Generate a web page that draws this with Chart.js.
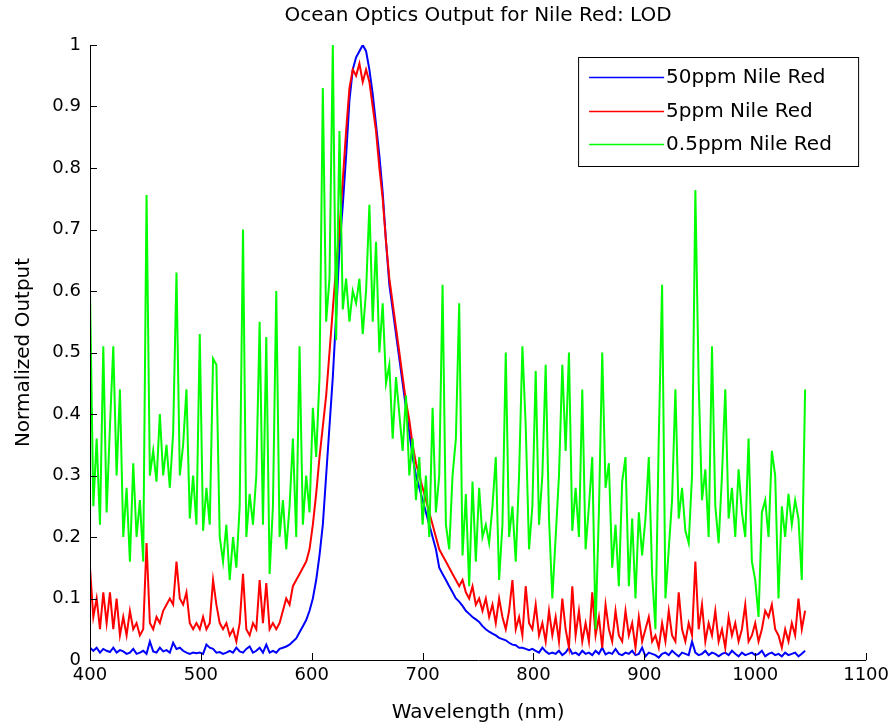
<!DOCTYPE html>
<html lang="en">
<head>
<meta charset="UTF-8">
<title>Ocean Optics Output for Nile Red: LOD</title>
<script src="https://cdn.jsdelivr.net/npm/chart.js"></script>
<style>
  body { margin: 0; background: #fff; }
</style>
</head>
<body>
<canvas id="spectra" width="894" height="726"></canvas>
<script>
// wavelength grid (nm), 3 nm apart
const wavelengths = [
  400,403,406,409,412,415,418,421,424,427,
  430,433,436,439,442,445,448,451,454,457,
  460,463,466,469,472,475,478,481,484,487,
  490,493,496,499,502,505,508,511,514,517,
  520,523,526,529,532,535,538,541,544,547,
  550,553,556,559,562,565,568,571,574,577,
  580,583,586,589,592,595,598,601,604,607,
  610,613,616,619,622,625,628,631,634,637,
  640,643,646,649,652,655,658,661,664,667,
  670,673,676,679,682,685,688,691,694,697,
  700,703,706,709,712,715,718,721,724,727,
  730,733,736,739,742,745,748,751,754,757,
  760,763,766,769,772,775,778,781,784,787,
  790,793,796,799,802,805,808,811,814,817,
  820,823,826,829,832,835,838,841,844,847,
  850,853,856,859,862,865,868,871,874,877,
  880,883,886,889,892,895,898,901,904,907,
  910,913,916,919,922,925,928,931,934,937,
  940,943,946,949,952,955,958,961,964,967,
  970,973,976,979,982,985,988,991,994,997,
  1000,1003,1006,1009,1012,1015,1018,1021,1024,1027,
  1030,1033,1036,1039,1042,1045
];

const nileRed50ppm = [
  0.02,0.015,0.02,0.012,0.018,0.015,0.013,0.02,0.012,0.016,
  0.014,0.01,0.012,0.018,0.01,0.012,0.015,0.01,0.03,0.014,
  0.012,0.02,0.014,0.016,0.012,0.028,0.018,0.02,0.015,0.012,
  0.01,0.012,0.011,0.012,0.01,0.025,0.02,0.018,0.012,0.013,
  0.01,0.012,0.015,0.012,0.02,0.014,0.012,0.018,0.022,0.012,
  0.015,0.02,0.012,0.025,0.012,0.015,0.012,0.018,0.02,0.022,
  0.025,0.03,0.035,0.045,0.055,0.065,0.08,0.1,0.13,0.17,
  0.22,0.3,0.38,0.46,0.56,0.67,0.74,0.82,0.91,0.96,
  0.98,0.99,1.0,0.99,0.96,0.92,0.87,0.82,0.76,0.68,
  0.61,0.57,0.53,0.49,0.45,0.41,0.37,0.33,0.3,0.28,
  0.26,0.24,0.22,0.2,0.18,0.15,0.14,0.13,0.12,0.11,
  0.1,0.095,0.088,0.08,0.075,0.07,0.066,0.062,0.055,0.05,
  0.046,0.043,0.04,0.036,0.034,0.032,0.028,0.025,0.024,0.02,
  0.02,0.018,0.016,0.018,0.015,0.012,0.02,0.014,0.01,0.012,
  0.01,0.015,0.008,0.012,0.02,0.01,0.012,0.008,0.015,0.01,
  0.012,0.008,0.015,0.01,0.02,0.009,0.012,0.01,0.018,0.01,
  0.008,0.012,0.01,0.015,0.008,0.01,0.02,0.006,0.012,0.01,
  0.008,0.004,0.01,0.012,0.008,0.015,0.01,0.006,0.012,0.01,
  0.008,0.03,0.012,0.008,0.01,0.015,0.008,0.012,0.01,0.006,
  0.01,0.012,0.008,0.015,0.01,0.006,0.012,0.008,0.01,0.012,
  0.008,0.01,0.015,0.006,0.01,0.012,0.008,0.01,0.006,0.012,
  0.008,0.01,0.012,0.006,0.01,0.015
];

const nileRed5ppm = [
  0.15,0.07,0.1,0.05,0.11,0.06,0.11,0.05,0.1,0.04,
  0.07,0.04,0.08,0.05,0.06,0.04,0.05,0.19,0.06,0.05,
  0.07,0.06,0.08,0.09,0.1,0.09,0.16,0.1,0.09,0.11,
  0.06,0.05,0.06,0.05,0.07,0.05,0.06,0.13,0.09,0.06,
  0.05,0.06,0.04,0.05,0.03,0.06,0.14,0.05,0.04,0.06,
  0.05,0.13,0.06,0.125,0.05,0.06,0.05,0.06,0.08,0.1,
  0.09,0.12,0.13,0.14,0.15,0.16,0.18,0.22,0.27,0.33,
  0.38,0.43,0.5,0.57,0.64,0.7,0.78,0.86,0.93,0.96,
  0.95,0.97,0.94,0.96,0.94,0.9,0.86,0.8,0.75,0.68,
  0.62,0.58,0.54,0.5,0.46,0.42,0.39,0.35,0.32,0.3,
  0.28,0.26,0.24,0.22,0.2,0.18,0.17,0.16,0.15,0.14,
  0.13,0.12,0.13,0.11,0.1,0.12,0.09,0.1,0.08,0.1,
  0.07,0.09,0.06,0.1,0.07,0.05,0.08,0.13,0.05,0.07,
  0.04,0.12,0.06,0.05,0.09,0.04,0.06,0.03,0.08,0.04,
  0.07,0.03,0.1,0.05,0.02,0.12,0.04,0.08,0.03,0.06,
  0.03,0.11,0.04,0.07,0.02,0.09,0.05,0.03,0.08,0.04,
  0.03,0.08,0.04,0.06,0.02,0.07,0.03,0.05,0.07,0.03,
  0.04,0.02,0.06,0.03,0.08,0.04,0.03,0.11,0.05,0.03,
  0.06,0.04,0.16,0.05,0.09,0.03,0.06,0.04,0.08,0.03,
  0.05,0.02,0.07,0.04,0.06,0.03,0.05,0.09,0.03,0.04,
  0.06,0.03,0.05,0.08,0.07,0.09,0.05,0.04,0.02,0.05,
  0.03,0.06,0.04,0.1,0.05,0.08
];

const nileRed05ppm = [
  0.6,0.25,0.36,0.22,0.51,0.24,0.38,0.51,0.3,0.44,
  0.2,0.28,0.16,0.32,0.2,0.26,0.16,0.756,0.3,0.34,
  0.29,0.4,0.3,0.35,0.28,0.37,0.63,0.3,0.35,0.44,
  0.23,0.3,0.22,0.53,0.21,0.28,0.22,0.49,0.48,0.2,
  0.16,0.22,0.13,0.2,0.15,0.25,0.7,0.2,0.27,0.22,
  0.3,0.55,0.22,0.525,0.14,0.25,0.6,0.2,0.26,0.18,
  0.25,0.36,0.2,0.51,0.22,0.3,0.24,0.41,0.33,0.46,
  0.93,0.55,0.62,1.0,0.52,0.86,0.57,0.62,0.55,0.6,
  0.58,0.62,0.53,0.6,0.74,0.55,0.68,0.5,0.58,0.45,
  0.48,0.36,0.46,0.4,0.34,0.43,0.3,0.36,0.26,0.33,
  0.22,0.3,0.2,0.41,0.24,0.3,0.61,0.22,0.18,0.3,
  0.36,0.58,0.17,0.27,0.12,0.29,0.16,0.28,0.2,0.22,
  0.19,0.25,0.33,0.13,0.22,0.5,0.2,0.25,0.16,0.3,
  0.51,0.38,0.18,0.25,0.47,0.22,0.3,0.48,0.23,0.1,
  0.2,0.3,0.48,0.34,0.5,0.21,0.28,0.2,0.44,0.18,
  0.25,0.33,0.05,0.24,0.5,0.28,0.32,0.15,0.22,0.12,
  0.29,0.33,0.12,0.23,0.1,0.24,0.17,0.23,0.33,0.14,
  0.05,0.36,0.61,0.1,0.18,0.26,0.44,0.23,0.28,0.21,
  0.19,0.3,0.764,0.45,0.26,0.31,0.2,0.51,0.25,0.19,
  0.3,0.44,0.23,0.28,0.2,0.31,0.24,0.2,0.36,0.16,
  0.13,0.07,0.24,0.26,0.2,0.34,0.3,0.1,0.25,0.2,
  0.27,0.22,0.26,0.23,0.13,0.44
];

const seriesLabels = ['50ppm Nile Red', '5ppm Nile Red', '0.5ppm Nile Red'];
const seriesColors = ['#0000ff', '#ff0000', '#00ff00'];
const xTicks = [400, 500, 600, 700, 800, 900, 1000, 1100];
const yTicks = [0, 0.1, 0.2, 0.3, 0.4, 0.5, 0.6, 0.7, 0.8, 0.9, 1];

const FONT = 'DejaVu Sans';

function points(vals) {
  return wavelengths.map((w, i) => ({ x: w, y: vals[i] }));
}

// matlab style axes: left + bottom lines, ticks pointing inward
const inwardAxes = {
  id: 'inwardAxes',
  afterDatasetsDraw(chart) {
    const { ctx, chartArea: a, scales } = chart;
    ctx.save();
    ctx.strokeStyle = '#000';
    ctx.lineWidth = 1;
    ctx.beginPath();
    ctx.moveTo(a.left + 0.5, a.top);
    ctx.lineTo(a.left + 0.5, a.bottom + 0.5);
    ctx.lineTo(a.right, a.bottom + 0.5);
    xTicks.forEach(v => {
      const px = Math.round(scales.x.getPixelForValue(v)) + 0.5;
      ctx.moveTo(px, a.bottom);
      ctx.lineTo(px, a.bottom - 7);
    });
    yTicks.forEach(v => {
      const py = Math.round(scales.y.getPixelForValue(v)) + 0.5;
      ctx.moveTo(a.left, py);
      ctx.lineTo(a.left + 7, py);
    });
    ctx.stroke();
    ctx.restore();
  }
};

// legend box in the upper right of the axes
const boxLegend = {
  id: 'boxLegend',
  afterDraw(chart) {
    const { ctx, chartArea: a } = chart;
    const w = 280, h = 109;
    const x0 = a.right - 8 - w, y0 = a.top + 12;
    ctx.save();
    ctx.fillStyle = '#fff';
    ctx.fillRect(x0, y0, w, h);
    ctx.strokeStyle = '#000';
    ctx.lineWidth = 1;
    ctx.strokeRect(x0 + 0.5, y0 + 0.5, w, h);
    ctx.font = '20px "' + FONT + '"';
    ctx.textBaseline = 'middle';
    chart.data.datasets.forEach((ds, i) => {
      const yy = Math.round(y0 + 20 + i * 33.5) + 0.5;
      ctx.strokeStyle = ds.borderColor;
      ctx.lineWidth = 1.5;
      ctx.beginPath();
      ctx.moveTo(x0 + 11, yy);
      ctx.lineTo(x0 + 86, yy);
      ctx.stroke();
      ctx.fillStyle = '#000';
      ctx.fillText(ds.label, x0 + 88, yy);
    });
    ctx.restore();
  }
};

new Chart(document.getElementById('spectra'), {
  type: 'line',
  data: {
    datasets: [
      { label: seriesLabels[0], data: points(nileRed50ppm), borderColor: seriesColors[0], order: 3 },
      { label: seriesLabels[1], data: points(nileRed5ppm), borderColor: seriesColors[1], order: 2 },
      { label: seriesLabels[2], data: points(nileRed05ppm), borderColor: seriesColors[2], order: 1 }
    ]
  },
  options: {
    responsive: false,
    animation: false,
    parsing: false,
    elements: {
      line: { borderWidth: 2, tension: 0, fill: false },
      point: { radius: 0 }
    },
    layout: { padding: { top: 0, right: 24, bottom: 0, left: 0 } },
    plugins: {
      legend: { display: false },
      tooltip: { enabled: false },
      title: {
        display: true,
        text: 'Ocean Optics Output for Nile Red: LOD',
        color: '#000',
        font: { family: FONT, size: 20, weight: 'normal' },
        padding: { top: 4, bottom: 17 },
        fullSize: false
      }
    },
    scales: {
      x: {
        type: 'linear',
        min: 400,
        max: 1100,
        afterFit: s => { s.height = 66; },
        afterBuildTicks: s => { s.ticks = xTicks.map(v => ({ value: v })); },
        grid: { display: false, drawTicks: false },
        border: { display: false },
        ticks: {
          color: '#000',
          padding: 5,
          maxRotation: 0,
          autoSkip: false,
          font: { family: FONT, size: 18 },
          callback: v => String(v)
        },
        title: {
          display: true,
          text: 'Wavelength (nm)',
          color: '#000',
          font: { family: FONT, size: 20 },
          padding: { top: 0, bottom: 1 }
        }
      },
      y: {
        min: 0,
        max: 1,
        afterFit: s => { s.width = 90; },
        afterBuildTicks: s => { s.ticks = yTicks.map(v => ({ value: v })); },
        grid: { display: false, drawTicks: false },
        border: { display: false },
        ticks: {
          color: '#000',
          padding: 9,
          autoSkip: false,
          font: { family: FONT, size: 18 },
          callback: v => String(Number(v.toFixed(1)))
        },
        title: {
          display: true,
          text: 'Normalized Output',
          color: '#000',
          font: { family: FONT, size: 20 },
          padding: { top: 12, bottom: 0 }
        }
      }
    }
  },
  plugins: [inwardAxes, boxLegend]
});
</script>
</body>
</html>
